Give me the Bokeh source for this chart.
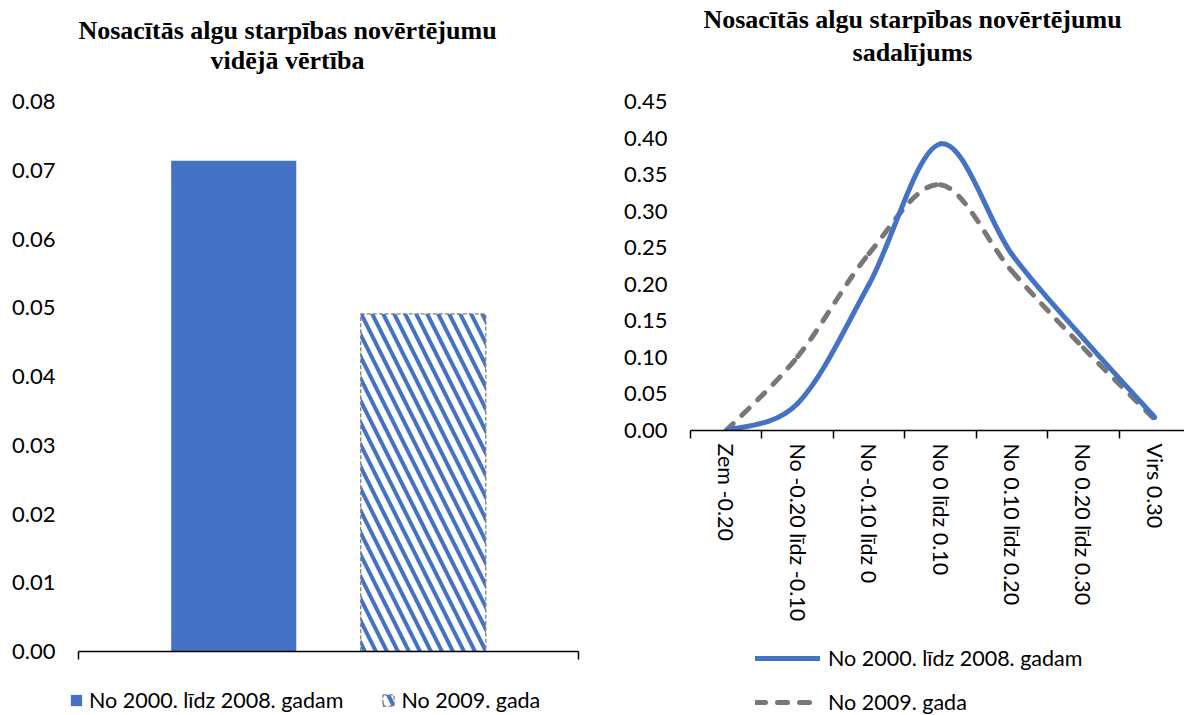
from bokeh.plotting import figure
from bokeh.layouts import row, column
from bokeh.models import (Range1d, FixedTicker, NumeralTickFormatter, Legend, LegendItem, Label)
from bokeh.embed import file_html
from bokeh.resources import INLINE

# ---------------- data ----------------
left_title = ["Nosacītās algu starpības novērtējumu", "vidējā vērtība"]
right_title = ["Nosacītās algu starpības novērtējumu", "sadalījums"]
series_names = ["No 2000. līdz 2008. gadam", "No 2009. gada"]
mean_values = [0.0714, 0.0491]
left_yticks = [0.00, 0.01, 0.02, 0.03, 0.04, 0.05, 0.06, 0.07, 0.08]

categories = ["Zem -0.20", "No -0.20 līdz -0.10", "No -0.10 līdz 0", "No 0 līdz 0.10",
              "No 0.10 līdz 0.20", "No 0.20 līdz 0.30", "Virs 0.30"]
dist_2000_2008 = [0.000, 0.037, 0.200, 0.392, 0.241, 0.126, 0.018]
dist_2009 = [0.000, 0.101, 0.242, 0.336, 0.218, 0.113, 0.015]
right_yticks = [0.00, 0.05, 0.10, 0.15, 0.20, 0.25, 0.30, 0.35, 0.40, 0.45]

BLUE = "#4472C4"
GRAY = "#787878"
SANS = "Lato"
SERIF = "Liberation Serif"
TOP_PAD = 101  # pixels between the top of the page and the highest y tick


def add_title_lines(p, lines, x_center, y_centers):
    # title lines, placed (in screen pixels) in the head room above the highest tick
    for txt, yc in zip(lines, y_centers):
        p.add_layout(Label(x=x_center, y=yc, x_units="screen", y_units="screen", text=txt,
                           text_align="center", text_baseline="middle",
                           text_font=SERIF, text_font_size="26px", text_font_style="bold",
                           text_color="#000000"))


def style_yaxis(ax):
    ax.axis_line_color = None
    ax.major_tick_line_color = None
    ax.minor_tick_line_color = None
    ax.major_tick_out = 0
    ax.major_label_standoff = 23
    ax.major_label_text_font = SANS
    ax.major_label_text_font_size = "22px"
    ax.major_label_text_color = "#000000"
    ax.formatter = NumeralTickFormatter(format="0.00")


def legend_canvas(width, height):
    # a strip that only holds a legend; its ranges lie away from the data so the proxy
    # glyphs themselves stay out of view
    lf = figure(width=width, height=height, output_backend="svg", toolbar_location=None,
                x_range=Range1d(10, 11), y_range=Range1d(10, 11),
                x_axis_type=None, y_axis_type=None, min_border=0, outline_line_color=None)
    lf.title.visible = False
    lf.grid.visible = False
    return lf


# ---------------- left chart ----------------
pad = 0.819
xs = list(range(len(mean_values)))
bar_style = [dict(fill_color=BLUE, line_color=None),
             dict(fill_color="white", hatch_pattern="left_diagonal_line", hatch_color=BLUE,
                  hatch_weight=4, hatch_scale=22, line_color="#808080", line_width=1.3,
                  line_dash="4 2")]

PL_H, PL_B = 676, 25
pl_frame = PL_H - PL_B
pl = figure(width=600, height=PL_H, output_backend="svg", toolbar_location=None,
            x_range=Range1d(xs[0] - pad, xs[-1] + pad),
            y_range=Range1d(left_yticks[0], left_yticks[-1] * pl_frame / (pl_frame - TOP_PAD)),
            min_border_left=78, min_border_right=22, min_border_top=0, min_border_bottom=PL_B,
            outline_line_color=None)
pl.title.visible = False
pl.grid.visible = False
add_title_lines(pl, left_title, 209, [pl_frame - 30, pl_frame - 60])

for i, v in enumerate(mean_values):
    pl.vbar(x=[xs[i]], top=[v], width=0.66, **bar_style[i])

pl.yaxis.ticker = FixedTicker(ticks=left_yticks)
style_yaxis(pl.yaxis[0])
xa = pl.xaxis[0]
xa.ticker = FixedTicker(ticks=[], minor_ticks=[xs[0] - pad, xs[-1] + pad])
xa.axis_line_color = "#000000"
xa.axis_line_width = 1.5
xa.minor_tick_line_color = "#000000"
xa.minor_tick_line_width = 1.5
xa.minor_tick_out = 8
xa.minor_tick_in = 0
xa.major_tick_line_color = None
xa.major_tick_out = 0
xa.major_label_text_font_size = "0px"
xa.major_label_standoff = 0

ll = legend_canvas(600, 39)
proxies_l = [ll.vbar(x=[xs[i]], top=[mean_values[i]], width=0.5, **bar_style[i])
             for i in range(len(series_names))]
leg_l = Legend(items=[LegendItem(label=series_names[i], renderers=[proxies_l[i]])
                      for i in range(len(series_names))],
               orientation="horizontal", location=(69, 2), padding=0, margin=0,
               border_line_color=None, background_fill_alpha=0,
               glyph_width=14, glyph_height=14, label_standoff=6, spacing=38,
               label_text_baseline="alphabetic",
               label_text_font=SANS, label_text_font_size="21.5px", label_text_color="#000000")
ll.add_layout(leg_l, "center")

# ---------------- right chart ----------------
def bezier_segments(ys):
    """Catmull-Rom style smoothing (Excel 'smoothed line') as cubic Bezier control points."""
    n = len(ys)
    xv = list(range(n))
    out = {k: [] for k in ("x0", "y0", "x1", "y1", "cx0", "cy0", "cx1", "cy1")}
    for i in range(n - 1):
        im1 = max(i - 1, 0)
        ip2 = min(i + 2, n - 1)
        out["x0"].append(xv[i]); out["y0"].append(ys[i])
        out["x1"].append(xv[i + 1]); out["y1"].append(ys[i + 1])
        out["cx0"].append(xv[i] + (xv[i + 1] - xv[im1]) / 6)
        out["cy0"].append(ys[i] + (ys[i + 1] - ys[im1]) / 6)
        out["cx1"].append(xv[i + 1] - (xv[ip2] - xv[i]) / 6)
        out["cy1"].append(ys[i + 1] - (ys[ip2] - ys[i]) / 6)
    return out


line_style = [dict(line_color=BLUE, line_width=5, line_cap="round", line_join="round"),
              dict(line_color=GRAY, line_width=5, line_dash="10 12", line_cap="round",
                   line_join="round")]
dists = [dist_2000_2008, dist_2009]

PR_H, PR_B = 640, 210
pr_frame = PR_H - PR_B
pr = figure(width=584, height=PR_H, output_backend="svg", toolbar_location=None,
            x_range=Range1d(-0.5, 6.416),
            y_range=Range1d(right_yticks[0], right_yticks[-1] * pr_frame / (pr_frame - TOP_PAD)),
            min_border_left=90, min_border_right=0, min_border_top=0, min_border_bottom=PR_B,
            outline_line_color=None)
pr.title.visible = False
pr.grid.visible = False
add_title_lines(pr, right_title, 222, [pr_frame - 19, pr_frame - 52])

pr.bezier(**bezier_segments(dists[1]), **line_style[1])
pr.bezier(**bezier_segments(dists[0]), **line_style[0])

pr.yaxis.ticker = FixedTicker(ticks=right_yticks)
style_yaxis(pr.yaxis[0])
xr = pr.xaxis[0]
xr.ticker = FixedTicker(ticks=list(range(len(categories))),
                        minor_ticks=[i - 0.5 for i in range(len(categories) + 1)])
xr.major_label_overrides = {i: c for i, c in enumerate(categories)}
xr.major_label_orientation = "vertical"
xr.major_label_text_font = SANS
xr.major_label_text_font_size = "21.5px"
xr.major_label_text_color = "#000000"
xr.major_label_standoff = 5
xr.major_tick_line_color = None
xr.major_tick_out = 0
xr.axis_line_color = "#000000"
xr.axis_line_width = 1.5
xr.minor_tick_line_color = "#000000"
xr.minor_tick_line_width = 1.5
xr.minor_tick_out = 8
xr.minor_tick_in = 0

lr = legend_canvas(584, 75)
proxies_r = [lr.line(x=list(range(len(categories))), y=dists[i], **line_style[i])
             for i in range(len(series_names))]
leg_r = Legend(items=[LegendItem(label=series_names[i], renderers=[proxies_r[i]])
                      for i in range(len(series_names))],
               orientation="vertical", location=(155, 0), padding=0, margin=0,
               border_line_color=None, background_fill_alpha=0,
               glyph_width=65, glyph_height=26, label_height=26, label_standoff=8, spacing=18,
               label_text_font=SANS, label_text_font_size="21.5px", label_text_color="#000000")
lr.add_layout(leg_r, "center")

layout = row(column(pl, column(ll)), column(pr, column(lr)))
open("out.html", "w").write(file_html(layout, INLINE))
